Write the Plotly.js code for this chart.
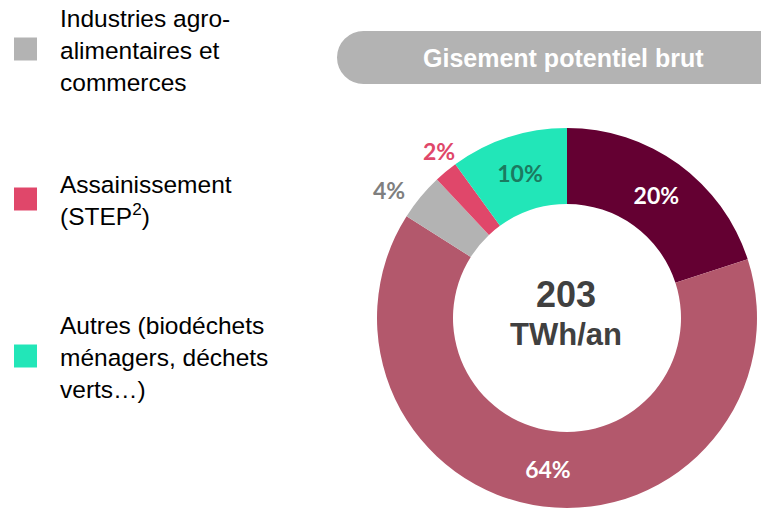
<!DOCTYPE html>
<html><head><meta charset="utf-8">
<script src="https://cdn.plot.ly/plotly-3.0.1.min.js"></script>
<style>html,body{margin:0;padding:0;background:#fff}#c{width:761px;height:509px}</style>
</head><body><div id="c"></div>
<script>
const categories = ["Agricole", "Cultures", "Industries agro-alimentaires et commerces", "Assainissement (STEP²)", "Autres (biodéchets ménagers, déchets verts…)"];
const shares = [20, 64, 4, 2, 10];
const sliceColors = ["#640032", "#b3586c", "#b3b3b3", "#e0476a", "#22e6b8"];
const labelColors = ["#ffffff", "#ffffff", "#7f7f7f", "#e0476a", "#1b7a60"];
const labelInside = [true, true, false, false, true];
const legendLabels = ["Industries agro-<br>alimentaires et<br>commerces", "Assainissement<br>(STEP<sup>2</sup>)", "Autres (biodéchets<br>ménagers, déchets<br>verts…)"];
const legendColors = ["#b3b3b3", "#e0476a", "#22e6b8"];
const totalValue = "203";
const totalUnit = "TWh/an";
const headerText = "Gisement potentiel brut";

const W = 761, H = 509;
const px = x => x / W, py = y => 1 - y / H;
const pctFont = "Lato, 'Open Sans', sans-serif";

const trace = {
  type: "pie",
  values: shares,
  labels: categories,
  marker: {colors: sliceColors, line: {width: 0}},
  hole: 0.6,
  sort: false,
  direction: "clockwise",
  rotation: 0,
  texttemplate: shares.map((v, i) => labelInside[i] ? v + "%" : ""),
  textinfo: "text",
  textposition: "inside",
  textfont: {family: pctFont, size: 23, color: labelColors, weight: "bold"},
  insidetextorientation: "horizontal",
  showlegend: false,
  domain: {x: [px(377), px(757)], y: [py(508), py(128)]},
  automargin: false
};

const legendCenters = [49, 199, 356];
const shapes = [];
const annotations = [];
legendLabels.forEach((t, i) => {
  const c = legendCenters[i];
  shapes.push({type: "rect", xref: "paper", yref: "paper", x0: px(14), x1: px(37), y0: py(c - 11.5), y1: py(c + 11.5), fillcolor: legendColors[i], line: {width: 0}});
  annotations.push({xref: "paper", yref: "paper", x: px(58), y: py(c + 1), xanchor: "left", yanchor: "middle", align: "left", showarrow: false, text: t, font: {family: "'Liberation Sans', Arial, sans-serif", size: 24.5, color: "#000000"}});
});
// outside percentage labels (small slices)
const outsidePos = {2: [389, 190], 3: [439, 151]};
shares.forEach((v, i) => {
  if (labelInside[i]) return;
  const p = outsidePos[i];
  annotations.push({xref: "paper", yref: "paper", x: px(p[0]), y: py(p[1]), xanchor: "center", yanchor: "middle", showarrow: false, text: "<b>" + v + "%</b>", font: {family: pctFont, size: 23, color: labelColors[i]}});
});
// header pill
shapes.push({type: "circle", xref: "paper", yref: "paper", x0: px(337), x1: px(390), y0: py(84), y1: py(31), fillcolor: "#b3b3b3", line: {width: 0}});
shapes.push({type: "rect", xref: "paper", yref: "paper", x0: px(363), x1: px(761), y0: py(84), y1: py(31), fillcolor: "#b3b3b3", line: {width: 0}});
annotations.push({xref: "paper", yref: "paper", x: px(563), y: py(58), xanchor: "center", yanchor: "middle", showarrow: false, text: "<b>" + headerText + "</b>", font: {family: "'Liberation Sans', Arial, sans-serif", size: 25, color: "#ffffff"}});
// center text
annotations.push({xref: "paper", yref: "paper", x: px(566), y: py(294), xanchor: "center", yanchor: "middle", showarrow: false, text: "<b>" + totalValue + "</b>", font: {family: "'Liberation Sans', Arial, sans-serif", size: 36, color: "#404040"}});
annotations.push({xref: "paper", yref: "paper", x: px(566), y: py(334), xanchor: "center", yanchor: "middle", showarrow: false, text: "<b>" + totalUnit + "</b>", font: {family: "'Liberation Sans', Arial, sans-serif", size: 31, color: "#404040"}});

Plotly.newPlot("c", [trace], {
  width: W, height: H,
  margin: {l: 0, r: 0, t: 0, b: 0},
  paper_bgcolor: "#ffffff",
  shapes, annotations
}, {staticPlot: true});
</script></body></html>
